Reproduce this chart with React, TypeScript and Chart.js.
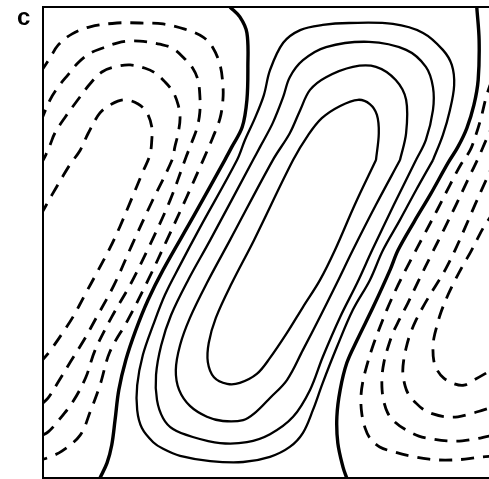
import { useEffect, useRef } from "react";
import { Chart, registerables } from "chart.js";

Chart.register(...registerables);

type Pt = [number, number];

// Visible extent of the basin in x (the panel is cut at the right); y spans 0..1.
const X_MAX = 0.947;

// Zero contours (heavy lines)
const zeroWest: Pt[] = [
  [0.397, 1.0], [0.418, 0.979], [0.433, 0.945], [0.435, 0.873], [0.433, 0.803],
  [0.423, 0.745], [0.401, 0.703], [0.386, 0.675], [0.321, 0.558], [0.255, 0.442],
  [0.223, 0.378], [0.197, 0.314], [0.176, 0.251], [0.161, 0.187], [0.153, 0.123],
  [0.146, 0.07], [0.136, 0.032], [0.121, 0.0],
];

const zeroEast: Pt[] = [
  [0.921, 1.0], [0.926, 0.93], [0.924, 0.845], [0.915, 0.792], [0.9, 0.743],
  [0.881, 0.703], [0.86, 0.669], [0.822, 0.601], [0.788, 0.544], [0.754, 0.484],
  [0.737, 0.442], [0.701, 0.363], [0.667, 0.293], [0.645, 0.244], [0.631, 0.187],
  [0.624, 0.13], [0.626, 0.074], [0.637, 0.023], [0.645, 0.0],
];

// Positive contours (closed cells, outer to inner)
const pos1: Pt[] = [
  [0.828, 0.675], [0.792, 0.611], [0.758, 0.548], [0.722, 0.484], [0.694, 0.42],
  [0.658, 0.357], [0.624, 0.278], [0.594, 0.202], [0.573, 0.144], [0.552, 0.096],
  [0.524, 0.066], [0.482, 0.045], [0.425, 0.034], [0.355, 0.036], [0.291, 0.047],
  [0.255, 0.062], [0.234, 0.076], [0.21, 0.106], [0.2, 0.144], [0.2, 0.197],
  [0.212, 0.261], [0.234, 0.325], [0.259, 0.389], [0.291, 0.452], [0.333, 0.531],
  [0.412, 0.675], [0.429, 0.718], [0.45, 0.764], [0.469, 0.813], [0.482, 0.866],
  [0.51, 0.924], [0.546, 0.951], [0.594, 0.962], [0.65, 0.966], [0.743, 0.964],
  [0.807, 0.945], [0.849, 0.909], [0.868, 0.877], [0.873, 0.834], [0.864, 0.781],
  [0.849, 0.728], [0.828, 0.675],
];

const pos2: Pt[] = [
  [0.792, 0.675], [0.745, 0.58], [0.699, 0.484], [0.667, 0.414], [0.631, 0.342],
  [0.594, 0.257], [0.567, 0.187], [0.531, 0.13], [0.482, 0.093], [0.433, 0.076],
  [0.376, 0.074], [0.318, 0.087], [0.276, 0.104], [0.255, 0.127], [0.242, 0.166],
  [0.24, 0.219], [0.251, 0.282], [0.272, 0.346], [0.308, 0.42], [0.355, 0.505],
  [0.446, 0.675], [0.461, 0.703], [0.488, 0.754], [0.51, 0.809], [0.524, 0.851],
  [0.552, 0.887], [0.601, 0.915], [0.692, 0.926], [0.771, 0.909], [0.813, 0.873],
  [0.828, 0.83], [0.828, 0.781], [0.813, 0.718], [0.792, 0.675],
];

const pos3: Pt[] = [
  [0.758, 0.675], [0.707, 0.58], [0.658, 0.484], [0.624, 0.414], [0.588, 0.342],
  [0.552, 0.272], [0.518, 0.208], [0.482, 0.17], [0.452, 0.14], [0.425, 0.123],
  [0.382, 0.121], [0.348, 0.13], [0.312, 0.153], [0.289, 0.187], [0.282, 0.229],
  [0.291, 0.282], [0.312, 0.34], [0.348, 0.414], [0.397, 0.505], [0.488, 0.675],
  [0.524, 0.732], [0.546, 0.781], [0.567, 0.824], [0.601, 0.851], [0.658, 0.873],
  [0.707, 0.873], [0.749, 0.845], [0.771, 0.803], [0.771, 0.732], [0.758, 0.675],
];

const pos4: Pt[] = [
  [0.707, 0.675], [0.662, 0.58], [0.62, 0.484], [0.588, 0.42], [0.552, 0.363],
  [0.518, 0.308], [0.482, 0.255], [0.454, 0.221], [0.418, 0.202], [0.391, 0.2],
  [0.363, 0.214], [0.35, 0.246], [0.352, 0.287], [0.367, 0.34], [0.401, 0.414],
  [0.448, 0.505], [0.531, 0.675], [0.563, 0.728], [0.592, 0.764], [0.631, 0.79],
  [0.669, 0.803], [0.694, 0.794], [0.709, 0.771], [0.713, 0.732], [0.707, 0.675],
];

// Negative contours, western cell (outer to inner), wall to wall
const negWest1: Pt[] = [
  [-0.005, 0.862], [0.015, 0.892], [0.032, 0.919], [0.062, 0.943], [0.1, 0.958],
  [0.157, 0.966], [0.206, 0.966], [0.255, 0.964], [0.301, 0.953], [0.34, 0.936],
  [0.361, 0.913], [0.376, 0.877], [0.382, 0.834], [0.382, 0.803], [0.376, 0.764],
  [0.361, 0.724], [0.34, 0.675], [0.304, 0.594], [0.263, 0.505], [0.223, 0.42],
  [0.18, 0.335], [0.142, 0.268], [0.121, 0.197], [0.1, 0.14], [0.079, 0.091],
  [0.04, 0.057], [0.015, 0.045], [-0.005, 0.038],
];

const negWest2: Pt[] = [
  [-0.005, 0.756], [0.015, 0.803], [0.032, 0.83], [0.053, 0.856], [0.074, 0.881],
  [0.1, 0.902], [0.127, 0.913], [0.159, 0.924], [0.189, 0.928], [0.221, 0.926],
  [0.248, 0.921], [0.274, 0.913], [0.297, 0.894], [0.318, 0.87], [0.329, 0.845],
  [0.333, 0.813], [0.333, 0.777], [0.327, 0.743], [0.316, 0.713], [0.304, 0.682],
  [0.27, 0.59], [0.227, 0.495], [0.185, 0.41], [0.146, 0.342], [0.11, 0.27],
  [0.091, 0.214], [0.064, 0.163], [0.032, 0.121], [0.011, 0.098], [-0.005, 0.089],
];

const negWest3: Pt[] = [
  [-0.005, 0.665], [0.006, 0.686], [0.015, 0.707], [0.025, 0.732], [0.047, 0.766],
  [0.074, 0.803], [0.1, 0.837], [0.125, 0.862], [0.153, 0.873], [0.185, 0.877],
  [0.217, 0.87], [0.238, 0.86], [0.259, 0.841], [0.276, 0.82], [0.287, 0.792],
  [0.291, 0.764], [0.287, 0.732], [0.28, 0.703], [0.274, 0.675], [0.231, 0.586],
  [0.189, 0.495], [0.151, 0.41], [0.113, 0.34], [0.087, 0.293], [0.059, 0.248],
  [0.03, 0.2], [0.011, 0.17], [-0.005, 0.155],
];

const negWest4: Pt[] = [
  [-0.005, 0.558], [0.019, 0.601], [0.04, 0.637], [0.057, 0.665], [0.079, 0.696],
  [0.096, 0.732], [0.121, 0.775], [0.146, 0.794], [0.174, 0.803], [0.202, 0.794],
  [0.221, 0.775], [0.231, 0.745], [0.231, 0.718], [0.227, 0.686], [0.212, 0.65],
  [0.187, 0.59], [0.163, 0.533], [0.142, 0.488], [0.115, 0.437], [0.089, 0.389],
  [0.066, 0.346], [0.047, 0.316], [0.015, 0.27], [-0.005, 0.246],
];

// Negative contours, eastern cell (outer to inner)
const negEast1: Pt[] = [
  [0.953, 0.845], [0.941, 0.809], [0.93, 0.764], [0.919, 0.728], [0.907, 0.696],
  [0.887, 0.665], [0.864, 0.622], [0.837, 0.569], [0.809, 0.516], [0.781, 0.463],
  [0.754, 0.41], [0.73, 0.357], [0.713, 0.314], [0.699, 0.276], [0.688, 0.24],
  [0.679, 0.204], [0.675, 0.17], [0.677, 0.136], [0.684, 0.106], [0.694, 0.085],
  [0.715, 0.066], [0.747, 0.055], [0.779, 0.047], [0.82, 0.04], [0.854, 0.038],
  [0.896, 0.04], [0.934, 0.045], [0.97, 0.047],
];

const negEast2: Pt[] = [
  [0.96, 0.76], [0.941, 0.718], [0.924, 0.679], [0.902, 0.633], [0.877, 0.58],
  [0.851, 0.527], [0.824, 0.473], [0.798, 0.42], [0.775, 0.372], [0.756, 0.335],
  [0.743, 0.308], [0.732, 0.276], [0.724, 0.246], [0.72, 0.217], [0.72, 0.187],
  [0.724, 0.161], [0.732, 0.138], [0.747, 0.119], [0.771, 0.102], [0.798, 0.089],
  [0.826, 0.083], [0.858, 0.079], [0.89, 0.079], [0.919, 0.083], [0.947, 0.089],
  [0.97, 0.093],
];

const negEast3: Pt[] = [
  [0.96, 0.675], [0.941, 0.633], [0.919, 0.584], [0.896, 0.531], [0.875, 0.484],
  [0.854, 0.442], [0.828, 0.399], [0.809, 0.367], [0.792, 0.335], [0.779, 0.304],
  [0.771, 0.276], [0.766, 0.251], [0.764, 0.225], [0.769, 0.195], [0.777, 0.176],
  [0.79, 0.161], [0.807, 0.146], [0.828, 0.136], [0.854, 0.13], [0.881, 0.13],
  [0.907, 0.136], [0.934, 0.144], [0.97, 0.155],
];

const negEast4: Pt[] = [
  [0.96, 0.569], [0.936, 0.533], [0.921, 0.505], [0.907, 0.478], [0.892, 0.452],
  [0.875, 0.42], [0.86, 0.389], [0.845, 0.352], [0.837, 0.325], [0.83, 0.297],
  [0.828, 0.272], [0.83, 0.248], [0.837, 0.229], [0.851, 0.212], [0.873, 0.2],
  [0.894, 0.197], [0.915, 0.208], [0.938, 0.221], [0.97, 0.24],
];

const toXY = (pts: Pt[]) => pts.map(([x, y]) => ({ x, y }));

const contourLine = (pts: Pt[], width: number, dash: number[] = []) => ({
  data: toXY(pts),
  showLine: true,
  borderColor: "#000",
  borderWidth: width,
  borderDash: dash,
  pointRadius: 0,
  pointHoverRadius: 0,
  tension: 0.35,
  fill: false,
});

const DASH = [13, 9];

// Box frame: left, top and bottom sides (the east side lies outside the panel)
const framePlugin = {
  id: "frame",
  afterDatasetsDraw(chart: any) {
    const { ctx, chartArea } = chart;
    const { left, top, right, bottom } = chartArea;
    ctx.save();
    ctx.strokeStyle = "#000";
    ctx.lineWidth = 2;
    ctx.beginPath();
    ctx.moveTo(right + 2, top);
    ctx.lineTo(left, top);
    ctx.lineTo(left, bottom);
    ctx.lineTo(right + 2, bottom);
    ctx.stroke();
    ctx.restore();
  },
};

export default function App() {
  const canvasRef = useRef<HTMLCanvasElement | null>(null);

  useEffect(() => {
    const canvas = canvasRef.current;
    if (!canvas) return;
    const chart = new Chart(canvas, {
      type: "scatter",
      data: {
        datasets: [
          contourLine(zeroWest, 3.4),
          contourLine(zeroEast, 3.4),
          contourLine(pos1, 2.3),
          contourLine(pos2, 2.3),
          contourLine(pos3, 2.3),
          contourLine(pos4, 2.3),
          contourLine(negWest1, 2.8, DASH),
          contourLine(negWest2, 2.8, DASH),
          contourLine(negWest3, 2.8, DASH),
          contourLine(negWest4, 2.8, DASH),
          contourLine(negEast1, 2.8, DASH),
          contourLine(negEast2, 2.8, DASH),
          contourLine(negEast3, 2.8, DASH),
          contourLine(negEast4, 2.8, DASH),
        ] as any,
      },
      options: {
        animation: false,
        responsive: false,
        devicePixelRatio: 1,
        events: [],
        layout: { padding: { left: 43, top: 7, right: 0, bottom: 1 } },
        plugins: {
          legend: { display: false },
          tooltip: { enabled: false },
        },
        scales: {
          x: { type: "linear", min: 0, max: X_MAX, display: false },
          y: { type: "linear", min: 0, max: 1, display: false },
        },
      },
      plugins: [framePlugin],
    });
    return () => chart.destroy();
  }, []);

  return (
    <div
      style={{
        position: "absolute",
        left: 0,
        top: 0,
        width: 489,
        height: 479,
        background: "#fff",
      }}
    >
      <canvas ref={canvasRef} width={489} height={479} />
      <div
        style={{
          position: "absolute",
          left: 17,
          top: 5,
          font: 'bold 24px "Liberation Sans", Arial, sans-serif',
          lineHeight: "24px",
          color: "#000",
        }}
      >
        c
      </div>
    </div>
  );
}
